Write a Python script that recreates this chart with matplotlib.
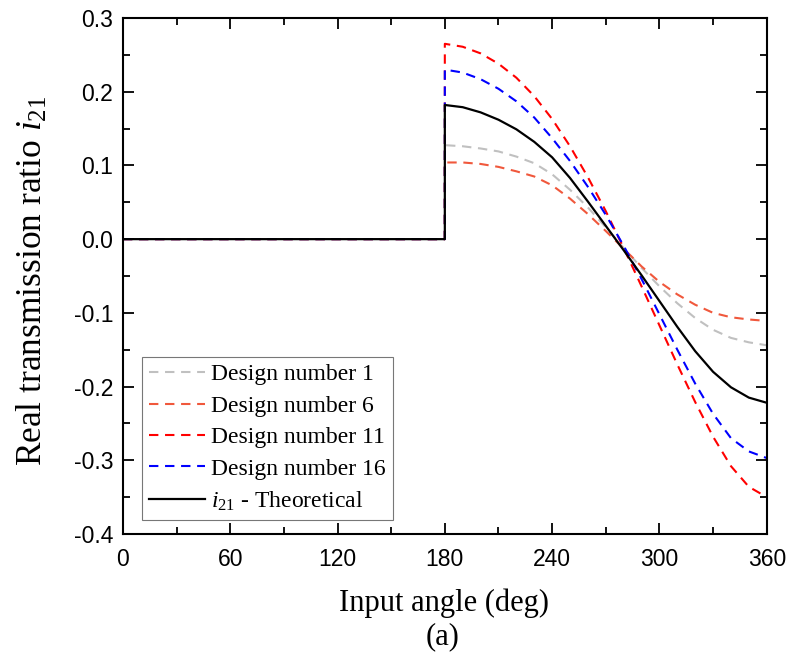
import matplotlib
matplotlib.use('Agg')
import matplotlib.pyplot as plt
from matplotlib.ticker import MultipleLocator, FormatStrFormatter

# angles (deg); 180 appears twice for the jump
angles = [0, 180, 180, 190, 200, 210, 220, 230, 240, 250, 260,
          270, 280, 290, 300, 310, 320, 330, 340, 350, 360]

design_1 = [0, 0, 0.1275, 0.126, 0.123, 0.119, 0.112, 0.103, 0.088, 0.067, 0.043,
            0.016, -0.012, -0.039, -0.064, -0.087, -0.107, -0.123, -0.134, -0.140, -0.144]
design_6 = [0, 0, 0.104, 0.104, 0.102, 0.098, 0.092, 0.085, 0.073, 0.055, 0.034,
            0.011, -0.013, -0.037, -0.058, -0.075, -0.089, -0.100, -0.106, -0.109, -0.111]
design_11 = [0, 0, 0.265, 0.261, 0.252, 0.238, 0.219, 0.194, 0.163, 0.126, 0.084,
             0.038, -0.012, -0.064, -0.117, -0.170, -0.221, -0.268, -0.308, -0.336, -0.350]
design_16 = [0, 0, 0.230, 0.226, 0.217, 0.204, 0.187, 0.165, 0.137, 0.106, 0.071,
             0.033, -0.009, -0.054, -0.102, -0.150, -0.196, -0.237, -0.270, -0.288, -0.297]
theoretical = [0, 0, 0.182, 0.179, 0.172, 0.162, 0.149, 0.132, 0.111, 0.083, 0.051,
               0.018, -0.015, -0.049, -0.084, -0.119, -0.152, -0.180, -0.201, -0.215, -0.222]

plt.rcParams['axes.unicode_minus'] = False
plt.rcParams['mathtext.fontset'] = 'custom'
plt.rcParams['mathtext.rm'] = 'Liberation Serif'
plt.rcParams['mathtext.it'] = 'Liberation Serif:italic'

fig = plt.figure(figsize=(7.88, 6.62), dpi=100)
ax = fig.add_axes([0.156, 0.1934, 0.817, 0.7794])

dash = (0, (4.5, 3.2))
ax.plot(angles, design_1, color='#c0c0c0', lw=1.5, linestyle=dash, label='Design number 1')
ax.plot(angles, design_6, color='#f0583c', lw=1.5, linestyle=dash, label='Design number 6')
ax.plot(angles, design_11, color='#ff0000', lw=1.5, linestyle=dash, label='Design number 11')
ax.plot(angles, design_16, color='#0000ff', lw=1.5, linestyle=dash, label='Design number 16')
ax.plot(angles, theoretical, color='black', lw=1.6, label='$i_{21}$ - Theoretical')

ax.set_xlim(0, 360)
ax.set_ylim(-0.4, 0.3)
ax.xaxis.set_major_locator(MultipleLocator(60))
ax.xaxis.set_minor_locator(MultipleLocator(30))
ax.yaxis.set_major_locator(MultipleLocator(0.1))
ax.yaxis.set_minor_locator(MultipleLocator(0.05))
ax.yaxis.set_major_formatter(FormatStrFormatter('%.1f'))

ax.tick_params(which='both', direction='in', top=True, right=True, width=1.3)
ax.tick_params(which='major', length=8, labelsize=16.5)
ax.tick_params(which='minor', length=5)
ax.tick_params(axis='x', which='major', pad=10)
ax.tick_params(axis='y', which='major', pad=7)
for lab in ax.get_xticklabels() + ax.get_yticklabels():
    lab.set_fontfamily('Liberation Sans')
for s in ax.spines.values():
    s.set_linewidth(1.5)

ax.set_xlabel('Input angle (deg)', fontfamily='Liberation Serif', fontsize=22)
ax.set_ylabel('Real transmission ratio $i_{21}$', fontfamily='Liberation Serif', fontsize=25.5)
ax.xaxis.set_label_coords(0.498, -0.105)
ax.yaxis.set_label_coords(-0.113, 0.49)
fig.text(0.562, 0.038, '(a)', fontfamily='Liberation Serif', fontsize=22, ha='center', va='center')

leg = ax.legend(loc='lower left', bbox_to_anchor=(0.029, 0.027), fancybox=False,
                prop={'family': 'Liberation Serif', 'size': 17}, handlelength=2.4,
                handletextpad=0.25, labelspacing=0.42, borderpad=0.3, borderaxespad=0)
leg.get_frame().set_edgecolor('#555555')
leg.get_frame().set_linewidth(0.8)

plt.savefig('out.png', dpi=100)
